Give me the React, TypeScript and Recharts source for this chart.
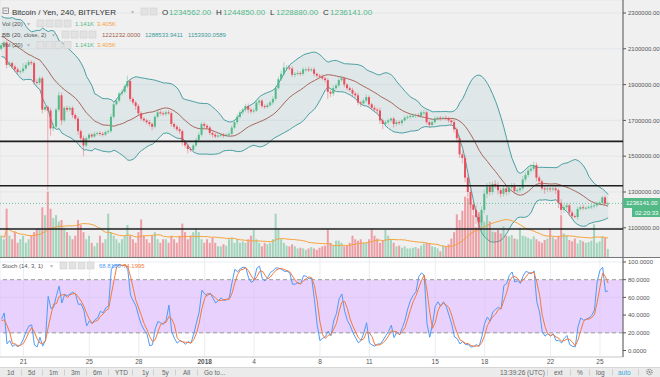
import {
  ComposedChart,
  Bar,
  Line,
  Area,
  XAxis,
  YAxis,
  CartesianGrid,
  ReferenceLine,
  ReferenceArea,
  Cell,
} from "recharts";

// BTC/JPY bitFlyer, 4h candles, prices in thousands of yen
// candles left of the visible range, only feeding the BB / Stoch windows
const warmCloses = [
  2230, 2260, 2210, 2190, 2240, 2200, 2160, 2210, 2245, 2200,
  2150, 2100, 2060, 2080, 2140, 2190, 2160, 2130, 2100,
];
const warmWicks = [10, 12, 10, 15, 10, 12, 10, 10, 10, 12, 10, 15, 15, 10, 12, 10, 10, 12, 10];

const firstOpen = 2100;
const closes = [
  2120, 2135, 2010, 2020, 2000, 1985, 1970, 1975, 1990, 2010,
  2025, 2020, 1915, 1910, 1935, 1760, 1775, 1755, 1655, 1665,
  1760, 1840, 1700, 1770, 1760, 1770, 1730, 1710, 1640, 1600,
  1560, 1600, 1620, 1610, 1625, 1630, 1625, 1620, 1635, 1640,
  1720, 1790, 1810, 1850, 1860, 1890, 1920, 1820, 1800, 1780,
  1740, 1710, 1700, 1690, 1680, 1665, 1720, 1745, 1740, 1735,
  1745, 1740, 1680, 1665, 1650, 1640, 1580, 1560, 1540, 1535,
  1560, 1590, 1620, 1680, 1670, 1660, 1630, 1620, 1610, 1615,
  1620, 1615, 1620, 1625, 1660, 1690, 1720, 1745, 1760, 1780,
  1760, 1750, 1755, 1800, 1810, 1780, 1775, 1785, 1800, 1820,
  1880, 1930, 1960, 1995, 1995, 1990, 1955, 1960, 1965, 1960,
  1985, 1985, 1980, 1985, 1960, 1950, 1945, 1935, 1925, 1860,
  1850, 1880, 1895, 1925, 1935, 1900, 1880, 1870, 1850, 1840,
  1800, 1795, 1810, 1830, 1790, 1770, 1760, 1755, 1700, 1680,
  1690, 1700, 1710, 1680, 1690, 1685, 1700, 1715, 1720, 1725,
  1725, 1730, 1725, 1745, 1745, 1690, 1675, 1690, 1710, 1715,
  1710, 1715, 1710, 1700, 1690, 1650, 1600, 1510, 1490, 1380,
  1300, 1230, 1200, 1160, 1130, 1200, 1290, 1330, 1300, 1345,
  1340, 1310, 1290, 1320, 1300, 1325, 1335, 1305, 1310, 1320,
  1370, 1395, 1420, 1430, 1450, 1380, 1360, 1320, 1315, 1320,
  1315, 1320, 1310, 1240, 1200, 1215, 1225, 1185, 1165, 1160,
  1205, 1215, 1210, 1212, 1215, 1220, 1225, 1235, 1240, 1270,
  1234.562, 1236.141,
];
const highWicks = [
  15, 10, 10, 12, 8, 10, 12, 10, 30, 15,
  12, 10, 10, 15, 10, 10, 12, 10, 15, 20,
  10, 20, 15, 10, 12, 10, 8, 10, 12, 10,
  15, 10, 8, 10, 12, 8, 10, 10, 8, 10,
  15, 10, 12, 10, 15, 10, 30, 12, 10, 10,
  12, 10, 8, 10, 12, 8, 10, 15, 12, 10,
  10, 12, 10, 8, 10, 12, 10, 8, 12, 10,
  10, 12, 15, 12, 10, 8, 10, 8, 10, 12,
  8, 10, 8, 10, 12, 10, 15, 12, 10, 12,
  15, 10, 12, 15, 10, 8, 10, 12, 10, 15,
  12, 15, 20, 30, 15, 10, 12, 10, 15, 10,
  12, 10, 15, 10, 12, 8, 10, 12, 10, 12,
  10, 15, 10, 12, 15, 10, 8, 10, 12, 10,
  15, 10, 12, 15, 10, 8, 12, 10, 15, 10,
  12, 10, 8, 10, 12, 10, 8, 12, 10, 8,
  10, 8, 10, 12, 15, 10, 8, 10, 12, 8,
  10, 8, 12, 10, 8, 15, 10, 15, 20, 15,
  20, 30, 20, 25, 15, 20, 25, 20, 25, 15,
  20, 15, 12, 15, 10, 12, 15, 15, 12, 15,
  20, 15, 20, 25, 20, 15, 12, 10, 12, 15,
  10, 12, 15, 10, 20, 15, 12, 10, 12, 10,
  12, 10, 15, 8, 10, 12, 10, 12, 10, 8,
  10, 9,
];
const lowWicks = [
  10, 15, 20, 12, 10, 15, 10, 12, 10, 8,
  10, 12, 15, 10, 12, 20, 10, 445, 40, 15,
  10, 12, 25, 10, 12, 10, 15, 10, 20, 15,
  60, 10, 12, 10, 8, 10, 12, 10, 8, 10,
  10, 12, 8, 10, 12, 10, 10, 15, 12, 20,
  15, 12, 10, 12, 15, 20, 10, 8, 12, 10,
  10, 8, 15, 12, 10, 15, 20, 15, 25, 12,
  10, 8, 10, 12, 15, 10, 12, 15, 10, 8,
  10, 12, 8, 10, 8, 10, 12, 10, 15, 12,
  20, 12, 10, 8, 15, 12, 10, 8, 10, 12,
  10, 8, 10, 12, 15, 10, 12, 15, 10, 12,
  10, 12, 10, 8, 15, 12, 10, 12, 15, 40,
  20, 15, 10, 12, 10, 15, 12, 10, 15, 12,
  15, 20, 10, 12, 15, 12, 10, 15, 20, 30,
  15, 12, 10, 20, 12, 10, 15, 8, 10, 12,
  10, 12, 8, 10, 15, 12, 15, 10, 8, 10,
  12, 8, 10, 12, 15, 20, 25, 20, 30, 25,
  30, 20, 25, 40, 30, 25, 20, 25, 20, 15,
  20, 25, 20, 15, 20, 15, 12, 15, 20, 15,
  12, 15, 12, 10, 15, 20, 15, 12, 25, 15,
  15, 12, 20, 30, 25, 20, 15, 20, 15, 5,
  15, 10, 12, 10, 8, 10, 12, 10, 8, 10,
  8, 6,
];
// volume, thousands of BTC
const volumes = [
  3, 2.5, 6.8, 3, 2.5, 3.5, 2, 2.5, 3, 2,
  2.5, 3, 3.5, 4, 4, 7, 5.9, 9.2, 6.8, 5.5,
  5.9, 5, 5.2, 4, 3.5, 3, 2.5, 3, 5.2, 4.5,
  3.5, 2.5, 3, 2, 1.5, 2, 3, 2, 2.5, 6.1,
  3.5, 3, 2.5, 2, 2.5, 3, 4.5, 3, 2.5, 2,
  3.5, 5.3, 3, 2.5, 2, 3, 3.5, 2.5, 2, 2.5,
  2.5, 2, 3, 2.5, 2, 3, 4.7, 3.5, 2.5, 3,
  3.5, 4, 3.5, 2.5, 2, 2.5, 2, 2.7, 2, 1.5,
  1.5, 1.8, 1.6, 2.5, 2.7, 2, 2.5, 2, 2.2, 2,
  2.5, 3, 3.8, 2.5, 2, 1.5, 2, 1.8, 2, 2.5,
  6.1, 4, 2.5, 2, 1.6, 1.5, 1.8, 1.5, 1.2, 1.3,
  1.2, 1, 1.2, 1.4, 1.2, 1, 1.3, 1.5, 1.6, 3.9,
  2, 1.6, 2.3, 2.3, 2, 1.5, 1.6, 2, 3, 2.5,
  2.3, 2.5, 2, 2, 2.5, 4, 3, 2.6, 2, 2.3,
  3.8, 3, 2.5, 2, 1.5, 1.6, 1.3, 1.5, 1.2, 1.2,
  1.3, 1.4, 1.2, 1.6, 1.9, 2, 1.9, 1.5, 1.4, 1.2,
  0.8, 1.6, 1.4, 1.8, 2.6, 3.5, 6, 5.2, 6.5, 8.5,
  8.3, 7.6, 5.9, 4.2, 6.3, 5.8, 5, 5.9, 5, 3.6,
  3.5, 3.8, 3.3, 4.3, 3, 2.9, 3.1, 2.6, 2.5, 4.1,
  3, 2.9, 2.7, 2.5, 2.9, 2.5, 2.2, 2, 2.4, 2.6,
  4, 2.8, 2.5, 3, 5.9, 3.3, 3, 2.4, 2.2, 2.6,
  1.9, 2.4, 2.2, 2, 2.1, 2.3, 4.6, 2, 2.2, 2.9,
  2.7, 1.141,
];

const dayTicks = [8, 32, 50, 74, 92, 116, 134, 158, 176, 200, 218];
const dayLabels = ["21", "25", "28", "2018", "4", "8", "11", "15", "18", "22", "25"];
const priceTicks = [
  1000000, 1100000, 1200000, 1300000, 1400000, 1500000, 1600000,
  1700000, 1800000, 1900000, 2000000, 2100000, 2200000, 2300000,
];
const stochTicks = [0, 20, 40, 60, 80, 100];
const levels = [1583000, 1335000, 1093000];
const lastPrice = 1236141;

const UP = "#53b987";
const DOWN = "#eb4d5c";
const BAND = "#4a9fa3";
const X_DOMAIN = [-0.55, 226.4];
const PRICE_DOMAIN = [936800, 2372600];
const VOL_DOMAIN = [0, 36.2];

// warm-up candles get negative indexes
const all: any[] = [];
warmCloses.forEach((c, k) => {
  const close = c * 1000;
  const open = (k === 0 ? c : warmCloses[k - 1]) * 1000;
  all.push({
    i: k - warmCloses.length,
    open,
    close,
    high: Math.max(open, close) + warmWicks[k] * 1000,
    low: Math.min(open, close) - warmWicks[k] * 1000,
  });
});
closes.forEach((c, i) => {
  const close = c * 1000;
  const open = (i === 0 ? firstOpen : closes[i - 1]) * 1000;
  const high = Math.max(open, close) + highWicks[i] * 1000;
  const low = Math.min(open, close) - lowWicks[i] * 1000;
  all.push({ i, open, close, high, low, hl: [low, high], vol: volumes[i] });
});

all.forEach((r, n) => {
  const win = all.slice(Math.max(0, n - 19), n + 1);
  const mean = win.reduce((a, d) => a + d.close, 0) / win.length;
  const sd = Math.sqrt(win.reduce((a, d) => a + (d.close - mean) ** 2, 0) / win.length);
  r.mid = mean;
  r.upper = mean + 2 * sd;
  r.lower = mean - 2 * sd;
  r.band = [r.lower, r.upper];
  const sw = all.slice(Math.max(0, n - 13), n + 1);
  const hh = Math.max(...sw.map((d) => d.high));
  const ll = Math.min(...sw.map((d) => d.low));
  r.k = hh === ll ? 50 : ((r.close - ll) / (hh - ll)) * 100;
});
all.forEach((r, n) => {
  const w = all.slice(Math.max(0, n - 2), n + 1);
  r.d = w.reduce((a, d) => a + d.k, 0) / w.length;
});

const rows = all.filter((r) => r.i >= 0);
rows.forEach((r, i) => {
  const w = rows.slice(Math.max(0, i - 19), i + 1);
  r.volMa = w.reduce((a, d) => a + d.vol, 0) / w.length;
});

const Candle = (props: any) => {
  const { x, y, width, height, payload } = props;
  if (!payload) return null;
  const top = Math.min(y, y + height);
  const h = Math.abs(height);
  const ratio = h / (payload.high - payload.low);
  const up = payload.close >= payload.open;
  const bodyTop = top + (payload.high - Math.max(payload.open, payload.close)) * ratio;
  const bodyH = Math.max(1, Math.abs(payload.close - payload.open) * ratio);
  const cx = x + width / 2;
  const color = up ? UP : DOWN;
  return (
    <g>
      <line x1={cx} x2={cx} y1={top} y2={top + h} stroke={color} strokeOpacity={0.55} strokeWidth={0.8} />
      <rect x={x} y={bodyTop} width={width} height={bodyH} fill={color} />
    </g>
  );
};

// the 1 200 000 label sits under the live price tag
const PriceTick = (p: any) => {
  if (p.payload.value === 1200000) return <g />;
  return (
    <text x={p.x} y={p.y} dy="0.355em" fontSize={6} fill="#555">
      {p.payload.value.toFixed(2)}
    </text>
  );
};

const layer: any = { position: "absolute", left: 0, top: 0 };
const gray = "#555";

function IconBoxes({ x, y }: { x: number; y: number }) {
  return (
    <g>
      {[0, 1, 2, 3].map((k) => (
        <rect key={k} x={x + k * 9} y={y} width={7} height={7} fill="#e2e2e2" stroke="#cfcfcf" strokeWidth={0.6} />
      ))}
    </g>
  );
}

function VolLegend({ y }: { y: number }) {
  return (
    <g fontSize={6}>
      <text x={2} y={y} fill={gray}>Vol (20)</text>
      <text x={27} y={y} fill="#bbb">▾</text>
      <IconBoxes x={37} y={y - 5.5} />
      <text x={75} y={y} fill={UP}>1.141K</text>
      <text x={97} y={y} fill="#f5a33d">3.405K</text>
    </g>
  );
}

export default function App() {
  return (
    <div
      style={{
        position: "absolute",
        left: 0,
        top: 0,
        width: 660,
        height: 377,
        background: "#f0f0f0",
        overflow: "hidden",
        fontFamily: '"Liberation Sans", Arial, sans-serif',
      }}
    >
      <div style={{ position: "absolute", left: 0, top: 257, width: 660, height: 110, background: "#ffffff" }} />

      {/* price pane: grid, bollinger bands, price scale */}
      <div style={layer}>
        <ComposedChart width={660} height={257} data={rows} margin={{ top: 0, right: 0, bottom: 0, left: 0 }}>
          <CartesianGrid stroke="#e0e4e9" strokeWidth={0.8} />
          <XAxis dataKey="i" type="number" domain={X_DOMAIN} ticks={dayTicks} height={0} tick={false} tickLine={false} axisLine={false} allowDataOverflow />
          <YAxis
            orientation="right"
            width={37}
            domain={PRICE_DOMAIN}
            ticks={priceTicks}
            allowDataOverflow
            tick={PriceTick}
            tickSize={3}
            tickLine={{ stroke: gray }}
            axisLine={{ stroke: gray }}
          />
          <Area dataKey="band" fill={BAND} fillOpacity={0.1} stroke="none" isAnimationActive={false} />
          <Line dataKey="upper" stroke={BAND} strokeWidth={1} dot={false} isAnimationActive={false} />
          <Line dataKey="lower" stroke={BAND} strokeWidth={1} dot={false} isAnimationActive={false} />
          <Line dataKey="mid" stroke="#a8665c" strokeWidth={1} dot={false} isAnimationActive={false} />
        </ComposedChart>
      </div>

      {/* volume */}
      <div style={layer}>
        <ComposedChart width={660} height={257} data={rows} margin={{ top: 0, right: 37, bottom: 0, left: 0 }}>
          <XAxis dataKey="i" type="number" domain={X_DOMAIN} hide allowDataOverflow />
          <YAxis domain={VOL_DOMAIN} hide allowDataOverflow />
          <Bar dataKey="vol" barSize={2} isAnimationActive={false}>
            {rows.map((r) => (
              <Cell key={r.i} fill={r.close >= r.open ? "rgba(83,185,135,0.5)" : "rgba(235,77,92,0.5)"} />
            ))}
          </Bar>
          <Line dataKey="volMa" stroke="#f5a33d" strokeWidth={1} dot={false} isAnimationActive={false} />
        </ComposedChart>
      </div>

      {/* candles and levels */}
      <div style={layer}>
        <ComposedChart width={660} height={257} data={rows} margin={{ top: 0, right: 37, bottom: 0, left: 0 }}>
          <XAxis dataKey="i" type="number" domain={X_DOMAIN} hide allowDataOverflow />
          <YAxis domain={PRICE_DOMAIN} hide allowDataOverflow />
          {levels.map((v) => (
            <ReferenceLine key={v} y={v} stroke="#1e1e1e" strokeWidth={1.6} />
          ))}
          <ReferenceLine y={lastPrice} stroke={UP} strokeDasharray="1 2" strokeWidth={0.8} />
          <Bar dataKey="hl" barSize={2} shape={Candle} isAnimationActive={false} />
        </ComposedChart>
      </div>

      {/* stochastic */}
      <div style={{ position: "absolute", left: 0, top: 257 }}>
        <ComposedChart width={660} height={110} data={rows} margin={{ top: 0, right: 0, bottom: 0, left: 0 }}>
          <CartesianGrid stroke="#e4e9f0" strokeWidth={0.8} />
          <XAxis
            dataKey="i"
            type="number"
            domain={X_DOMAIN}
            ticks={dayTicks}
            allowDataOverflow
            height={10}
            tickSize={0}
            tickMargin={0}
            tickLine={false}
            axisLine={{ stroke: "#cfcfcf" }}
            tick={(p: any) => {
              const lab = dayLabels[dayTicks.indexOf(p.payload.value)];
              return (
                <text x={p.x} y={p.y + 7} textAnchor="middle" fontSize={6.5} fontWeight={lab === "2018" ? 700 : 400} fill={gray}>
                  {lab}
                </text>
              );
            }}
          />
          <YAxis
            orientation="right"
            width={37}
            domain={[-7.34, 105.65]}
            ticks={stochTicks}
            allowDataOverflow
            tickFormatter={(v: number) => v.toFixed(4)}
            tick={{ fontSize: 6, fill: gray }}
            tickSize={3}
            tickLine={{ stroke: gray }}
            axisLine={{ stroke: gray }}
          />
          <ReferenceArea y1={20} y2={80} fill="#dcb8fa" fillOpacity={0.65} stroke="none" />
          <ReferenceLine y={20} stroke="#9a9a9a" strokeDasharray="4 3" />
          <ReferenceLine y={80} stroke="#9a9a9a" strokeDasharray="4 3" />
          <Line dataKey="k" stroke="#4f9bf8" strokeWidth={1} dot={false} isAnimationActive={false} />
          <Line dataKey="d" stroke="#f5793b" strokeWidth={1} dot={false} isAnimationActive={false} />
        </ComposedChart>
      </div>

      {/* legends, labels, toolbar */}
      <svg width={660} height={377} style={{ position: "absolute", left: 0, top: 0, pointerEvents: "none" }}>
        <line x1={0} x2={660} y1={257.5} y2={257.5} stroke="#777" strokeWidth={1} />

        <rect x={3} y={8} width={5.5} height={5.5} fill="none" stroke="#777" strokeWidth={0.7} />
        <line x1={4.2} x2={7.3} y1={10.75} y2={10.75} stroke="#777" strokeWidth={0.7} />
        <text x={12} y={14.5} fontSize={8} fill="#333">Bitcoin / Yen, 240, BITFLYER</text>
        <text x={131} y={14} fontSize={6} fill="#bbb">▾</text>
        <rect x={141} y={8} width={7} height={7} fill="#e2e2e2" stroke="#cfcfcf" strokeWidth={0.6} />
        <rect x={150} y={8} width={7} height={7} fill="#e2e2e2" stroke="#cfcfcf" strokeWidth={0.6} />
        <g fontSize={8}>
          <text x={162} y={14.5} fill="#333">O</text>
          <text x={169} y={14.5} fill={UP}>1234562.00</text>
          <text x={216} y={14.5} fill="#333">H</text>
          <text x={223} y={14.5} fill={UP}>1244850.00</text>
          <text x={270} y={14.5} fill="#333">L</text>
          <text x={276} y={14.5} fill={UP}>1228880.00</text>
          <text x={323} y={14.5} fill="#333">C</text>
          <text x={330} y={14.5} fill={UP}>1236141.00</text>
        </g>

        <VolLegend y={25.5} />
        <g fontSize={6}>
          <text x={2} y={36.5} fill={gray}>BB (20, close, 2)</text>
          <text x={52} y={36.5} fill="#bbb">▾</text>
          <IconBoxes x={62} y={31} />
          <text x={102} y={36.5} fill="#a0604f">1221232.0000</text>
          <text x={145} y={36.5} fill="#3d9a9e">1288533.9411</text>
          <text x={188} y={36.5} fill="#3d9a9e">1153930.0589</text>
        </g>
        <VolLegend y={47} />

        <g fontSize={6}>
          <text x={2} y={267.5} fill={gray}>Stoch (14, 3, 1)</text>
          <text x={50} y={267.5} fill="#bbb">▾</text>
          <IconBoxes x={60} y={262} />
          <text x={99} y={267.5} fill="#4f9bf8">68.8186</text>
          <text x={123} y={267.5} fill="#f5793b">74.1995</text>
        </g>

        <rect x={623} y={198} width={37} height={10} fill={UP} />
        <text x={626} y={205.2} fontSize={6} fill="#fff">1236141.00</text>
        <rect x={632} y={208} width={28} height={9} fill={UP} />
        <text x={635} y={214.7} fontSize={6} fill="#fff">02:20:33</text>

        <rect x={0} y={367} width={660} height={10} fill="#ebebeb" />
        <line x1={0} x2={660} y1={367.5} y2={367.5} stroke="#d6d6d6" />
        <g fontSize={6.5} fill="#666">
          {[
            ["1d", 7], ["5d", 28], ["1m", 49], ["3m", 71], ["6m", 93], ["YTD", 115],
            ["1y", 142], ["5y", 162], ["All", 183], ["Go to...", 204],
          ].map(([t, x]) => (
            <text key={t as string} x={x as number} y={374.5}>{t}</text>
          ))}
          <text x={500} y={374.5}>13:39:26 (UTC)</text>
          <text x={554} y={374.5}>ext</text>
          <text x={577} y={374.5}>%</text>
          <text x={596} y={374.5}>log</text>
          <text x={618} y={374.5} fill="#3fa9e0">auto</text>
        </g>
        {[21, 42, 64, 86, 108, 132, 153, 175, 197, 547, 570, 589, 612, 638].map((x) => (
          <line key={x} x1={x + 0.5} x2={x + 0.5} y1={369.5} y2={375.5} stroke="#cfcfcf" />
        ))}
        <circle cx={649.5} cy={372} r={2.6} fill="none" stroke="#888" strokeWidth={1.4} strokeDasharray="1.1 0.9" />
        <circle cx={649.5} cy={372} r={1} fill="#888" />
      </svg>
    </div>
  );
}
